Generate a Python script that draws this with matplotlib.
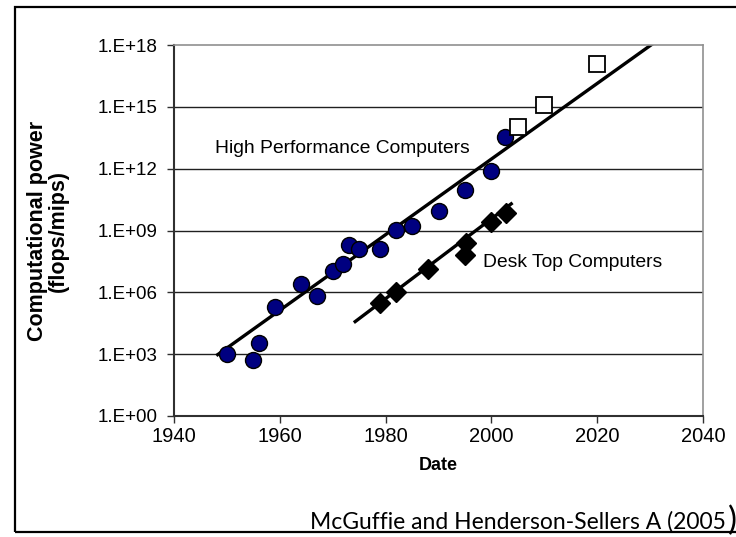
import matplotlib.pyplot as plt
from matplotlib.patches import Rectangle
from matplotlib.ticker import FixedLocator, FixedFormatter

# Supercomputer measurements (flops)
hpc_anos = [1950, 1955, 1956, 1959, 1964, 1967, 1970, 1972, 1973, 1975,
            1979, 1982, 1985, 1990, 1995, 2000, 2002.5]
hpc_valores = [1.0e3, 5.2e2, 3.4e3, 1.9e5, 2.6e6, 6.5e5, 1.05e7, 2.3e7, 1.9e8, 1.2e8,
               1.2e8, 1.1e9, 1.7e9, 8.7e9, 9.1e10, 8.1e11, 3.4e13]

# Projected machines (open squares)
proj_anos = [2005, 2010, 2020]
proj_valores = [1.1e14, 1.2e15, 1.2e17]

# Desktop machines (mips)
desk_anos = [1979, 1982, 1988, 1995, 1995.2, 2000, 2002.7]
desk_valores = [3.0e5, 1.05e6, 1.3e7, 6.6e7, 2.4e8, 2.7e9, 7.0e9]

# Trend lines (end points)
hpc_trend_anos = [1948, 2030.5]
hpc_trend_valores = [8.5e2, 1.15e18]
desk_trend_anos = [1974, 2004]
desk_trend_valores = [3.4e4, 2.2e10]

y_ticks = [1e0, 1e3, 1e6, 1e9, 1e12, 1e15, 1e18]
y_labels = ['1.E+00', '1.E+03', '1.E+06', '1.E+09', '1.E+12', '1.E+15', '1.E+18']
x_ticks = [1940, 1960, 1980, 2000, 2020, 2040]

plt.rcParams['font.family'] = ['Liberation Sans', 'DejaVu Sans']

W, H = 736, 537
fig = plt.figure(figsize=(W / 100, H / 100), dpi=100)
ax = fig.add_axes([174 / W, 1 - 416 / H, (703 - 174) / W, (416 - 45) / H])

ax.set_yscale('log')
ax.set_xlim(1940, 2040)
ax.set_ylim(1e0, 1e18)

# horizontal grid lines
for v in y_ticks[1:-1]:
    ax.axhline(v, color='#202020', lw=1.0, zorder=1)

ax.plot(hpc_trend_anos, hpc_trend_valores, color='black', lw=2.4, zorder=2,
        solid_capstyle='butt')
ax.plot(desk_trend_anos, desk_trend_valores, color='black', lw=2.4, zorder=2,
        solid_capstyle='butt')

ax.plot(hpc_anos, hpc_valores, 'o', ms=11.5, mfc='#000080', mec='black',
        mew=1.0, zorder=3)
ax.plot(proj_anos, proj_valores, 's', ms=11.5, mfc='white', mec='black',
        mew=1.3, zorder=3)
ax.plot(desk_anos, desk_valores, 'D', ms=10, mfc='black', mec='black',
        zorder=3)

ax.text(1947.8, 1e13, 'High Performance Computers', fontsize=13.9,
        ha='left', va='center')
ax.text(1998.4, 10**7.47, 'Desk Top Computers', fontsize=13.9,
        ha='left', va='center')

ax.yaxis.set_major_locator(FixedLocator(y_ticks))
ax.yaxis.set_major_formatter(FixedFormatter(y_labels))
ax.yaxis.set_minor_locator(FixedLocator([]))
ax.set_xticks(x_ticks)
ax.tick_params(axis='both', direction='out', length=5,
               width=1.0, color='#303030')
ax.tick_params(axis='y', pad=7, labelsize=13.5)
ax.tick_params(axis='x', pad=3, labelsize=14.5)

ax.spines['left'].set_color('#303030')
ax.spines['bottom'].set_color('#303030')
ax.spines['left'].set_linewidth(1.5)
ax.spines['bottom'].set_linewidth(1.5)
ax.spines['top'].set_color('#909090')
ax.spines['right'].set_color('#909090')
ax.spines['top'].set_linewidth(1.2)
ax.spines['right'].set_linewidth(1.2)

fig.text(438 / W, 1 - 465 / H, 'Date', fontsize=13, fontweight='bold',
         ha='center', va='center')
fig.text(48 / W, 1 - 231 / H, 'Computational power\n(flops/mips)',
         fontsize=15.5, fontweight='bold', rotation=90, ha='center',
         va='center', multialignment='center', linespacing=0.95)

# outer frame
fig.patches.append(Rectangle((15 / W, 1 - 532 / H), 1.0, (532 - 7) / H,
                             transform=fig.transFigure, fill=False,
                             edgecolor='black', lw=1.6))

fig.text(310 / W, 1 - 529 / H, 'McGuffie and Henderson-Sellers A (2005',
         fontsize=16.5, family=['Lato', 'DejaVu Sans'], ha='left',
         va='baseline')
fig.text(737 / W, 1 - 530 / H, ')', fontsize=24,
         family=['Lato', 'DejaVu Sans'], ha='right', va='baseline')

fig.savefig('out.png', dpi=100)
